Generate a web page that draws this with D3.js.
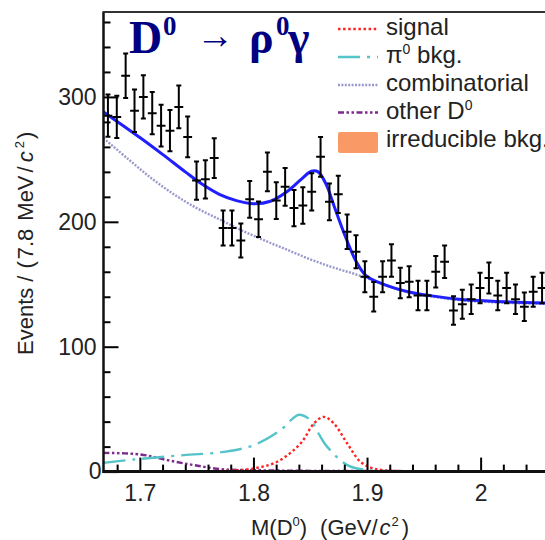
<!DOCTYPE html>
<html>
<head>
<meta charset="utf-8">
<script src="https://cdn.jsdelivr.net/npm/d3@7"></script>
<style>
body { margin: 0; background: #fff; }
text { font-family: "Liberation Sans", Arial, Helvetica, sans-serif; }
</style>
</head>
<body>
<div id="chart"></div>
<script>
// histogram: bin centres (GeV/c^2) and events per 7.8 MeV bin
var binCenters = [1.6719, 1.6797, 1.6875, 1.6953, 1.7031, 1.7109, 1.7187, 1.7265, 1.7343, 1.7421,
	1.7499, 1.7577, 1.7655, 1.7733, 1.7811, 1.7889, 1.7967, 1.8045, 1.8123, 1.8201,
	1.8279, 1.8357, 1.8435, 1.8513, 1.8591, 1.8669, 1.8747, 1.8825, 1.8903, 1.8981,
	1.9059, 1.9137, 1.9215, 1.9293, 1.9371, 1.9449, 1.9527, 1.9605, 1.9683, 1.9761,
	1.9839, 1.9917, 1.9995, 2.0073, 2.0151, 2.0229, 2.0307, 2.0385, 2.0463, 2.0541]
var counts = [285, 284, 317, 289, 300, 287, 277, 273, 292, 268,
	233, 234, 251, 195, 195, 185, 218, 202, 240, 217,
	228, 211, 213, 224, 252, 216, 222, 192, 176, 156,
	140, 156, 169, 151, 152, 141, 141, 160, 168, 129,
	134, 138, 147, 155, 141, 147, 138, 132, 144, 147]

// fit components
var totalX = [1.668, 1.70, 1.72, 1.74, 1.755, 1.77, 1.785, 1.80, 1.815, 1.83, 1.842, 1.851, 1.857, 1.864, 1.872, 1.881, 1.89, 1.899, 1.913, 1.937, 1.957, 1.981, 2.01, 2.04, 2.058]
var totalY = [288, 267.5, 254, 240, 230, 222, 217, 214.5, 216.5, 224.5, 234, 240.5, 240, 230, 210, 188, 169, 157, 150.5, 143.8, 140.7, 138, 136.4, 135.4, 135]

var combX = [1.668, 1.69, 1.71, 1.73, 1.75, 1.77, 1.79, 1.81, 1.83, 1.85, 1.87, 1.89, 1.91, 1.93, 1.95, 1.97, 1.99, 2.01, 2.03, 2.058]
var combY = [267, 250, 235, 222, 211, 202, 193, 185, 177.5, 170, 163.5, 158, 151.5, 145, 141.2, 138.5, 136.6, 135.6, 134.9, 134.3]

var signalX = [1.668, 1.74, 1.78, 1.8004, 1.8209, 1.8415, 1.8532, 1.862, 1.8708, 1.8826, 1.8943, 1.906, 1.93, 1.98, 2.058]
var signalY = [0.1, 0.2, 0.8, 2.5, 7.9, 22.5, 38.5, 43.8, 38.5, 22.5, 7.8, 2.5, 0.3, 0.1, 0.1]

var pi0X = [1.668, 1.6947, 1.7387, 1.7739, 1.8004, 1.8239, 1.8340, 1.8400, 1.8503, 1.8570, 1.865, 1.8826, 1.9002, 1.93, 2.058]
var pi0Y = [7, 9.7, 13.2, 15.8, 21.2, 33.2, 42, 45.5, 41.2, 31, 19.8, 5.2, 1.2, 0.3, 0.2]

var otherX = [1.668, 1.7006, 1.7241, 1.7475, 1.771, 1.7974, 1.85, 1.95, 2.058]
var otherY = [15, 13.7, 9.2, 5.2, 2, 1.2, 0.6, 0.4, 0.3]

var irrX = [1.668, 1.80, 1.83, 1.86, 1.89, 1.92, 2.058]
var irrY = [0, 0, 0.6, 1.3, 0.6, 0, 0]

var xMajor = [1.7, 1.8, 1.9, 2.0]
var xMajorLabels = ["1.7", "1.8", "1.9", "2"]
var xMinor = [1.68, 1.72, 1.74, 1.76, 1.78, 1.82, 1.84, 1.86, 1.88, 1.92, 1.94, 1.96, 1.98, 2.02, 2.04]
var yMajor = [0, 100, 200, 300]
var yMinor = [20, 40, 60, 80, 120, 140, 160, 180, 220, 240, 260, 280, 320, 340, 360]

var legendLabels = ["signal", "\u03c0|0| bkg.", "combinatorial", "other D|0|", "irreducible bkg."]

var w = 545, h = 540
var pL = 103.5, pR = 546.5, pT = 12, pB = 471.6

var svg = d3.select("#chart").append("svg")
	.attr("width", w)
	.attr("height", h)

var x = d3.scaleLinear().domain([1.668, 2.058]).range([pL, pR])
var y = d3.scaleLinear().domain([0, 368]).range([pB, pT])

svg.append("clipPath").attr("id", "clip")
	.append("rect")
	.attr("x", pL).attr("y", pT)
	.attr("width", pR - pL).attr("height", pB - pT)

var plot = svg.append("g").attr("clip-path", "url(#clip)")

var line = d3.line()
	.x(function(d) { return x(d[0]) })
	.y(function(d) { return y(d[1]) })
	.curve(d3.curveCatmullRom.alpha(0.5))

function pairs(xs, ys) { return xs.map(function(v, i) { return [v, ys[i]] }) }

// irreducible background (tiny orange area)
plot.append("path")
	.attr("d", d3.area()
		.x(function(d) { return x(d[0]) })
		.y0(y(0))
		.y1(function(d) { return y(d[1]) })
		.curve(d3.curveMonotoneX)(pairs(irrX, irrY)))
	.attr("fill", "#f99a66")

var styles = {
	signal: { color: "#ff2222", dash: "2.5,2.6", width: 2.4 },
	pi0: { color: "#55c4c8", dash: "22,7,3,7", width: 2.4 },
	comb: { color: "#9898cc", dash: "2,1.4", width: 2.4 },
	other: { color: "#7e2a8c", dash: "6,2.5,2.5,2.5,2.5,2.5", width: 2.4 }
}

function drawCurve(xs, ys, st) {
	plot.append("path").attr("d", line(pairs(xs, ys)))
		.attr("fill", "none").attr("stroke", st.color)
		.attr("stroke-width", st.width).attr("stroke-dasharray", st.dash)
}
drawCurve(otherX, otherY, styles.other)
drawCurve(pi0X, pi0Y, styles.pi0)
drawCurve(signalX, signalY, styles.signal)
drawCurve(combX, combY, styles.comb)
drawCurve(totalX, totalY, { color: "#1f1fff", width: 3, dash: null })

// data points with poisson error bars
var pts = plot.selectAll(".pt")
	.data(pairs(binCenters, counts))
	.enter().append("g")
	.attr("class", "pt")
	.attr("stroke", "#000")
	.attr("stroke-width", 2)

pts.append("line")
	.attr("x1", function(d) { return x(d[0]) })
	.attr("x2", function(d) { return x(d[0]) })
	.attr("y1", function(d) { return y(d[1] - Math.sqrt(d[1])) })
	.attr("y2", function(d) { return y(d[1] + Math.sqrt(d[1])) })
pts.append("line")
	.attr("x1", function(d) { return x(d[0] - 0.0039) })
	.attr("x2", function(d) { return x(d[0] + 0.0039) })
	.attr("y1", function(d) { return y(d[1]) })
	.attr("y2", function(d) { return y(d[1]) })
pts.selectAll(".cap")
	.data(function(d) { return [d[1] - Math.sqrt(d[1]), d[1] + Math.sqrt(d[1])].map(function(v) { return [d[0], v] }) })
	.enter().append("line")
	.attr("x1", function(d) { return x(d[0]) - 2.5 })
	.attr("x2", function(d) { return x(d[0]) + 2.5 })
	.attr("y1", function(d) { return y(d[1]) })
	.attr("y2", function(d) { return y(d[1]) })

// axes
function styleAxis(g) {
	g.selectAll("line").attr("stroke", "#000").attr("stroke-width", 2)
	g.selectAll("path").remove()
	g.selectAll("text").attr("fill", "#222").style("font-size", "23px")
}

svg.append("g").attr("transform", "translate(0," + pB + ")")
	.call(d3.axisBottom(x).tickValues(xMinor).tickSize(-7).tickFormat(""))
	.call(styleAxis)
svg.append("g").attr("transform", "translate(0," + pB + ")")
	.call(d3.axisBottom(x).tickValues(xMajor).tickSize(-14).tickPadding(13)
		.tickFormat(function(d, i) { return xMajorLabels[i] }))
	.call(styleAxis)

svg.append("g").attr("transform", "translate(" + pL + ",0)")
	.call(d3.axisLeft(y).tickValues(yMinor).tickSize(-7).tickFormat(""))
	.call(styleAxis)
var yAx = svg.append("g").attr("transform", "translate(" + pL + ",0)")
	.call(d3.axisLeft(y).tickValues(yMajor).tickSize(-15).tickPadding(7))
	.call(styleAxis)
yAx.selectAll("text").filter(function(d) { return d === 0 }).attr("x", -2)

// frame
svg.append("line").attr("x1", pL).attr("x2", pL).attr("y1", pT).attr("y2", pB + 1.5)
	.attr("stroke", "#111").attr("stroke-width", 2.5)
svg.append("line").attr("x1", pL - 1).attr("x2", pR).attr("y1", pB).attr("y2", pB)
	.attr("stroke", "#111").attr("stroke-width", 3)
svg.append("line").attr("x1", pL - 1).attr("x2", pR).attr("y1", pT).attr("y2", pT)
	.attr("stroke", "#333").attr("stroke-width", 2)

// axis titles
var xt = svg.append("text").attr("x", 251).attr("y", 535)
	.style("font-size", "22px").attr("fill", "#222")
xt.append("tspan").text("M(D")
xt.append("tspan").text("0").style("font-size", "13px").attr("dy", -9)
xt.append("tspan").text(")").attr("dy", 9)
xt.append("tspan").text("(GeV/").attr("dx", 13)
xt.append("tspan").text("c").style("font-style", "italic").attr("dx", 2)
xt.append("tspan").text("2").style("font-size", "13px").attr("dy", -9).attr("dx", 1)
xt.append("tspan").text(")").attr("dy", 9).attr("dx", 3)

var yt = svg.append("text").attr("transform", "translate(33,355) rotate(-90)")
	.style("font-size", "22px").attr("fill", "#222")
yt.append("tspan").text("Events")
yt.append("tspan").text("/").attr("dx", 6)
yt.append("tspan").text("(").attr("dx", 7)
yt.append("tspan").text("7.8").attr("dx", 2)
yt.append("tspan").text("MeV").attr("dx", 8)
yt.append("tspan").text("/").attr("dx", 3)
yt.append("tspan").text("c").style("font-style", "italic").attr("dx", 4)
yt.append("tspan").text("2").style("font-size", "13px").attr("dy", -9).attr("dx", 3)
yt.append("tspan").text(")").attr("dy", 9).attr("dx", 2)

// title
var serif = "'Liberation Serif', 'Times New Roman', serif"
function titlePart(tx, px, py, size, bold) {
	svg.append("text").attr("x", px).attr("y", py).text(tx)
		.attr("fill", "#000080")
		.style("font-family", serif).style("font-size", size + "px")
		.style("font-weight", bold ? "bold" : "normal")
}
titlePart("D", 129, 53, 46, true)
titlePart("0", 163, 35, 27, true)
titlePart("\u2192", 196, 48, 38, false)
titlePart("\u03c1", 249, 53, 46, true)
titlePart("0", 276, 35, 27, true)
titlePart("\u03b3", 288, 53, 46, true)

// legend
var legY = [35, 63, 91, 118.5, 146.5]
var legKeys = ["signal", "pi0", "comb", "other"]
var leg = svg.append("g")
legKeys.forEach(function(k, i) {
	leg.append("line")
		.attr("x1", 338).attr("x2", 378)
		.attr("y1", legY[i] - 6).attr("y2", legY[i] - 6)
		.attr("stroke", styles[k].color)
		.attr("stroke-width", styles[k].width)
		.attr("stroke-dasharray", styles[k].dash)
})
leg.append("rect").attr("x", 338).attr("y", 132).attr("width", 40).attr("height", 21)
	.attr("rx", 2).attr("fill", "#f99a66")

legendLabels.forEach(function(lab, i) {
	var t = leg.append("text").attr("x", 386).attr("y", legY[i])
		.style("font-size", "24px").attr("fill", "#222")
	var parts = lab.split("|")
	t.append("tspan").text(parts[0])
	if (parts.length > 1) {
		t.append("tspan").text(parts[1]).style("font-size", "14px").attr("dy", -9)
		t.append("tspan").text(parts[2]).attr("dy", 9)
	}
})
</script>
</body>
</html>
